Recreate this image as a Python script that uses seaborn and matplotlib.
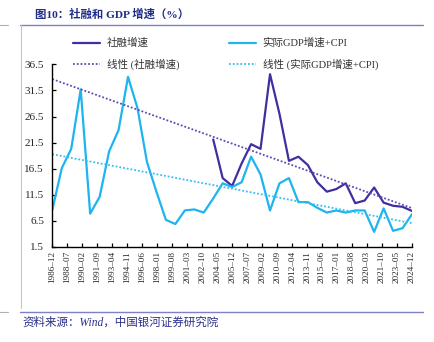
import numpy as np
import pandas as pd
import matplotlib
matplotlib.use("Agg")
import matplotlib.pyplot as plt
from matplotlib.lines import Line2D
import seaborn as sns

# ---- data -------------------------------------------------------------
years = list(range(1986, 2025))

# 实际GDP增速+CPI (%), 1986-2024
gdp_cpi = [8.6, 16.6, 20.3, 31.7, 7.9, 11.1, 19.8, 23.9, 34.1, 28.1,
           17.8, 12.1, 6.7, 5.9, 8.5, 8.7, 8.1, 10.8, 13.7, 13.0,
           13.9, 18.8, 15.4, 8.5, 13.7, 14.7, 10.1, 10.1, 9.0, 8.1,
           8.5, 8.1, 8.5, 8.5, 4.4, 8.9, 4.6, 5.1, 7.8]

# 社融增速 (%), available from 2003
tsf_start = 2003
tsf = [22.1, 14.7, 13.2, 17.5, 21.2, 20.3, 34.6, 27.0, 18.0, 18.8,
       17.2, 13.9, 12.1, 12.6, 13.7, 9.9, 10.4, 12.9, 10.0, 9.4,
       9.2, 8.4]

tick_labels = ["1986-12", "1988-07", "1990-02", "1991-09", "1993-04",
               "1994-11", "1996-06", "1998-01", "1999-08", "2001-03",
               "2002-10", "2004-05", "2005-12", "2007-07", "2009-02",
               "2010-09", "2012-04", "2013-11", "2015-06", "2017-01",
               "2018-08", "2020-03", "2021-10", "2023-05", "2024-12"]

y_ticks = [1.5, 6.5, 11.5, 16.5, 21.5, 26.5, 31.5, 36.5]

# ---- styling ----------------------------------------------------------
sns.set_style("ticks")
FONTS = ["Liberation Serif", "Noto Sans CJK SC"]
plt.rcParams["font.family"] = FONTS
plt.rcParams["axes.unicode_minus"] = False

C_TSF = "#3F2FA0"
C_GDP = "#1DB4F0"
C_TSF_TR = "#5B4BB3"
C_GDP_TR = "#35BFF0"

fig = plt.figure(figsize=(4.34, 3.42), dpi=100)
W, H = 434, 342
ax = fig.add_axes([52.3 / W, 1 - 247 / H, (412 - 52.3) / W, (247 - 64.3) / H])

# x as years since the first December
t0 = years[0] + 11 / 12
df_gdp = pd.DataFrame({"x": [y + 11 / 12 - t0 for y in years], "v": gdp_cpi})
tsf_years = [tsf_start + i for i in range(len(tsf))]
df_tsf = pd.DataFrame({"x": [y + 11 / 12 - t0 for y in tsf_years], "v": tsf})

sns.lineplot(data=df_tsf, x="x", y="v", ax=ax, color=C_TSF, lw=1.6)
sns.lineplot(data=df_gdp, x="x", y="v", ax=ax, color=C_GDP, lw=1.6)

# linear trend lines across the whole axis
x_full = np.array([df_gdp["x"].min(), df_gdp["x"].max()])
p_tsf = np.polyfit(df_tsf["x"], df_tsf["v"], 1)
p_gdp = np.polyfit(df_gdp["x"], df_gdp["v"], 1)
dots = (0, (1, 1.1))
sns.lineplot(x=x_full, y=np.polyval(p_tsf, x_full), ax=ax, color=C_TSF_TR,
             lw=1.3, linestyle=dots)
sns.lineplot(x=x_full, y=np.polyval(p_gdp, x_full), ax=ax, color=C_GDP_TR,
             lw=1.3, linestyle=dots)

# axes
ax.set_xlim(x_full[0], x_full[1])
ax.set_ylim(y_ticks[0], y_ticks[-1])
tick_pos = [int(s[:4]) + (int(s[5:]) - 1) / 12 - t0 for s in tick_labels]
ax.set_xticks(tick_pos)
ax.set_xticklabels([s.replace("-", "–") for s in tick_labels], rotation=90,
                   fontsize=6.6)
ax.set_yticks(y_ticks)
ax.set_yticklabels([f"{v:.1f}" for v in y_ticks], fontsize=8)
ax.tick_params(axis="both", direction="in", length=3, width=0.9,
               color="black", pad=3)
ax.tick_params(axis="y", pad=6)
for side in ("top", "right"):
    ax.spines[side].set_visible(False)
for side in ("left", "bottom"):
    ax.spines[side].set_linewidth(1.0)
    ax.spines[side].set_color("black")
ax.set_xlabel("")
ax.set_ylabel("")
ax.patch.set_alpha(0)

# legend
handles = [
    Line2D([], [], color=C_TSF, lw=1.6),
    Line2D([], [], color=C_TSF_TR, lw=1.3, linestyle=dots),
    Line2D([], [], color=C_GDP, lw=1.6),
    Line2D([], [], color=C_GDP_TR, lw=1.3, linestyle=dots),
]
labels = ["社融增速", "线性 (社融增速)", "实际GDP增速+CPI", "线性 (实际GDP增速+CPI)"]
fig.legend(handles, labels, loc="upper left", ncol=2,
           bbox_to_anchor=(73 / W, 1 - 38 / H), frameon=False,
           prop={"family": FONTS, "size": 7.6}, labelcolor="#333333",
           handlelength=2.6, handletextpad=0.6, columnspacing=4.7,
           labelspacing=1.0, borderpad=0, borderaxespad=0)

# title, frame rules and source note
fig.text(35 / W, 1 - 14 / H, "图10：社融和 GDP 增速（%）", fontsize=8.2,
         fontweight="bold", color="#1F2D86", va="center", ha="left",
         family=FONTS)
rule = "#8080C4"
fig.add_artist(Line2D([20 / W, 423 / W], [1 - 25 / H, 1 - 25 / H],
                      color=rule, lw=1.0))
fig.add_artist(Line2D([20 / W, 423 / W], [1 - 312 / H, 1 - 312 / H],
                      color=rule, lw=1.0))
fig.add_artist(Line2D([20.5 / W, 20.5 / W], [1 - 25 / H, 1 - 308 / H],
                      color="#C8C8C8", lw=0.8))
for yy in (25, 312):
    fig.add_artist(Line2D([0, 8 / W], [1 - yy / H, 1 - yy / H],
                          color="#B0B0B0", lw=0.8))
fig.text(22 / W, 1 - 323 / H, "资料来源：Wind，中国银河证券研究院",
         fontsize=8.3, style="italic", color="#2B2F8A", va="center",
         ha="left", family=FONTS)

fig.savefig("out.png", dpi=100)
